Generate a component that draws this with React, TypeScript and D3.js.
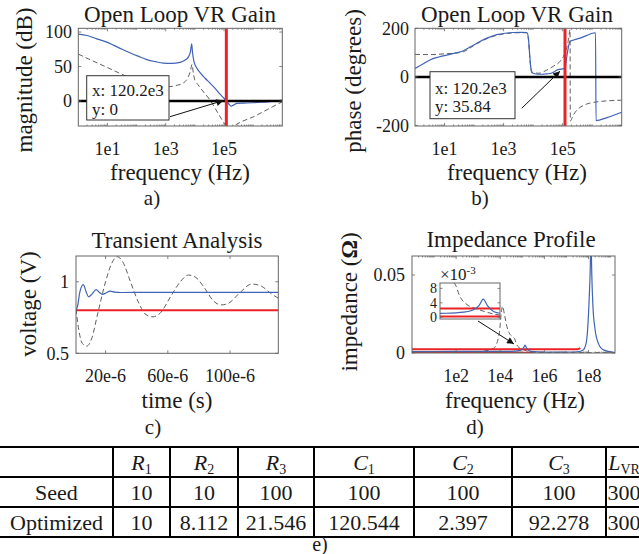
import React from 'react';
import * as d3 from 'd3';

const FONT = "'Liberation Serif','Times New Roman',serif";
const BLUE = '#3f63b5';
const RED = '#ec2227';
const DASH = '#4d4d4d';
const AXIS = '#666666';
const INK = '#1a1a1a';

// ---------- a) Open loop gain, magnitude (Hz, dB) ----------
const magOptFreq = [1, 2, 4.3, 10, 16, 32, 59, 112, 224, 447, 832, 1580, 3090, 4470, 6030, 7080, 7760, 8320, 9330, 11200, 15100, 22400, 33100, 50100, 72400, 1e5, 1.202e5, 1.51e5, 1.78e5, 2.09e5, 2.82e5, 5.01e5, 1e6, 2e6, 3.7e6, 6.3e6, 1e7];
const magOptDb = [97, 95, 90, 85, 81, 75, 70, 65, 60, 57, 55, 54.5, 56, 59, 64, 72, 83, 70, 57, 49, 41, 33, 26, 18, 10, 4, 0, -5, -7.5, -6, -3.5, -3, -2.5, -1.8, -1, 0.5, 1.5];
const magSeedFreq = [1, 3.2, 10, 27, 63, 158, 398, 1000, 1410, 2510, 3980, 5620, 7080, 7940, 8910, 10000, 12600, 20000, 33100, 63100, 1.26e5, 1.58e5, 2e5, 3.98e5, 1e6, 3.16e6, 1e7];
const magSeedDb = [68, 58, 48.5, 40, 33, 27, 23, 21, 21, 23, 26, 33, 44, 53, 40, 30, 24, 13, 1.5, -18, -37, -40, -37, -30, -23, -12, -1];

// ---------- b) Open loop gain, phase (Hz, degrees) ----------
const phaseOptFreq = [1, 1.8, 3.2, 6.3, 11.7, 22.4, 43.7, 79, 158, 316, 589, 1120, 2140, 3980, 6170, 6920, 7590, 8320, 9120, 12600, 17400, 25100, 38000, 50100, 63100, 89100, 1.202e5, 1.38e5, 1.58e5, 1.78e5, 2.51e5, 3.89e5, 6.31e5, 1.1e6, 1.3e6, 1.35e6, 3.16e6, 1e7];
const phaseOptDeg = [35, 52, 70, 82, 90, 98, 108, 125, 146, 163, 174, 180, 183, 184, 183, 160, 97, 40, 17, 12, 11, 12, 14, 20, 28, 32, 35.84, 83, 125, 146, 153, 160, 170, 181, 182, -180, -168, -146];
const phaseSeedFreq = [1, 3.2, 10, 31.6, 43.7, 100, 316, 1000, 3160, 6030, 6920, 7940, 9120, 15800, 28800, 50100, 83200, 1.12e5, 1.38e5, 1.58e5, 1.78e5, 1.82e5, 2.24e5, 3.16e5, 5.01e5, 1e6, 3.16e6, 1e7];
const phaseSeedDeg = [93, 92, 95, 100, 104, 130, 161, 177, 182, 182, 155, 60, 20, 15, 28, 45, 65, 90, 120, 155, 195, -182, -160, -135, -118, -106, -99, -96];

// crossover annotation
const crossoverFreq = 120.2e3;
const gainAtCrossover = 0;
const phaseAtCrossover = 35.84;

// ---------- c) Transient analysis (s, V) ----------
const tranOptTime = [1e-6, 2e-6, 3.5e-6, 5.7e-6, 7.5e-6, 9e-6, 11e-6, 13.9e-6, 16e-6, 18e-6, 20e-6, 23e-6, 26e-6, 30e-6, 40e-6, 131e-6];
const tranOptV = [0.8, 0.83, 0.93, 0.98, 0.93, 0.895, 0.91, 0.945, 0.925, 0.912, 0.92, 0.935, 0.927, 0.925, 0.926, 0.926];
const tranSeedTime = [1e-6, 3e-6, 5e-6, 7.9e-6, 11e-6, 15e-6, 20e-6, 24e-6, 27.5e-6, 31e-6, 36e-6, 41e-6, 46e-6, 50.5e-6, 55e-6, 62e-6, 68e-6, 73.3e-6, 78e-6, 84e-6, 89e-6, 94.2e-6, 99e-6, 106e-6, 113.9e-6, 120e-6, 126e-6, 131e-6];
const tranSeedV = [0.81, 0.65, 0.57, 0.55, 0.6, 0.78, 1.0, 1.13, 1.175, 1.14, 1.0, 0.86, 0.77, 0.755, 0.78, 0.9, 1.0, 1.047, 1.03, 0.95, 0.87, 0.838, 0.85, 0.92, 0.984, 0.97, 0.92, 0.885];
const tranLimitV = 0.8;

// ---------- d) Impedance profile (Hz, Ohm) ----------
const impOptFreq = [1, 100, 1e4, 3.16e4, 6.31e4, 8.91e4, 1.12e5, 1.32e5, 1.55e5, 2e5, 2.51e5, 1e6, 1e7, 3.16e7, 5.75e7, 7.94e7, 9.12e7, 1.07e8, 1.17e8, 1.29e8, 1.41e8, 1.58e8, 1.95e8, 2.82e8, 4.68e8, 1.58e9];
const impOptOhm = [0.0009, 0.001, 0.001, 0.0011, 0.0014, 0.002, 0.0032, 0.005, 0.0032, 0.0015, 0.0011, 0.0006, 0.0005, 0.0008, 0.002, 0.007, 0.0155, 0.035, 0.049, 0.072, 0.049, 0.03, 0.0157, 0.006, 0.002, 0.0003];
const impSeedFreq = [1, 100, 1000, 5000, 8900, 1.12e4, 1.26e4, 1.58e4, 2e4, 2.51e4, 3.55e4, 4.47e4, 5.37e4, 7.08e4, 1e5, 1.58e5, 2.51e5, 1e6, 1.58e9];
const impSeedOhm = [0.0003, 0.0004, 0.0008, 0.003, 0.012, 0.026, 0.03, 0.024, 0.017, 0.013, 0.0105, 0.0092, 0.0058, 0.0035, 0.0024, 0.0013, 0.0006, 0.0003, 0.0002];
const impTargetFreq = [1, 3.3e7, 4.2e7];
const impTargetOhm = [0.0024, 0.0024, 0.0032];
const impTarget2Freq = [1, 3.2e5];
const impTarget2Ohm = [0.0002, 0.0002];

// ---------- e) Table ----------
const paramSymbols = ['R', 'R', 'R', 'C', 'C', 'C', 'L'];
const paramSubs = ['1', '2', '3', '1', '2', '3', 'VR'];
const seedValues = [10, 10, 100, 100, 100, 100, 300];
const optimizedValues = [10, 8.112, 21.546, 120.544, 2.397, 92.278, 300];
const rowNames = ['Seed', 'Optimized'];

type S = any;

function pathOf(xs: number[], ys: number[], sx: S, sy: S, curve: any = d3.curveMonotoneX) {
  const pts = xs.map((x, i) => [x, ys[i]] as [number, number]);
  return d3.line<[number, number]>().x(d => sx(d[0])).y(d => sy(d[1])).curve(curve)(pts) || '';
}

function logMinor(domain: number[]) {
  const [lo, hi] = domain;
  const out: number[] = [];
  for (let e = Math.floor(Math.log10(lo)); e <= Math.ceil(Math.log10(hi)); e++) {
    for (let m = 1; m <= 9; m++) {
      const v = m * Math.pow(10, e);
      if (v > lo * 1.0001 && v < hi * 0.9999) out.push(v);
    }
  }
  return out;
}

function Frame({ sx, sy, xMajor, yMajor, xMinor = [] as number[], major = 3, minor = 1.5 }: any) {
  const [x0, x1] = sx.range();
  const [y1, y0] = sy.range();
  const parts: string[] = [];
  xMajor.forEach((t: number) => { const X = sx(t); parts.push(`M${X},${y1}v${-major}M${X},${y0}v${major}`); });
  xMinor.forEach((t: number) => { const X = sx(t); parts.push(`M${X},${y1}v${-minor}M${X},${y0}v${minor}`); });
  yMajor.forEach((t: number) => { const Y = sy(t); parts.push(`M${x0},${Y}h${major}M${x1},${Y}h${-major}`); });
  return (
    <g>
      <path d={parts.join('')} stroke={AXIS} strokeWidth={0.8} fill="none" />
      <rect x={x0} y={y0} width={x1 - x0} height={y1 - y0} fill="none" stroke={AXIS} strokeWidth={1} />
    </g>
  );
}

function TickText({ sx, sy, xTicks, xFmt, xBase, yTicks, yFmt, yRight, size = 18 }: any) {
  return (
    <g fontFamily={FONT} fontSize={size} fill={INK}>
      {xTicks.map((t: number) => (
        <text key={'x' + t} x={sx(t)} y={xBase} textAnchor="middle">{xFmt(t)}</text>
      ))}
      {yTicks.map((t: number) => (
        <text key={'y' + t} x={yRight} y={sy(t)} dy="0.35em" textAnchor="end">{yFmt(t)}</text>
      ))}
    </g>
  );
}

function ClipRect({ id, sx, sy }: any) {
  const [x0, x1] = sx.range();
  const [y1, y0] = sy.range();
  return (
    <clipPath id={id}>
      <rect x={x0} y={y0} width={x1 - x0} height={y1 - y0} />
    </clipPath>
  );
}

const expFmt = (t: number) => `1e${Math.round(Math.log10(t))}`;

export default function App() {
  // scales
  const xa = d3.scaleLog().domain([1, 1e7]).range([78.3, 282.3]);
  const ya = d3.scaleLinear().domain([-36.2, 105.4]).range([126, 28.3]);
  const xb = d3.scaleLog().domain([1, 1e7]).range([415, 621.7]);
  const yb = d3.scaleLinear().domain([-202.5, 200.4]).range([126, 28.3]);
  const xc = d3.scaleLinear().domain([1e-6, 131e-6]).range([76, 278.3]);
  const yc = d3.scaleLinear().domain([0.5, 1.18]).range([353.3, 256]);
  const xd = d3.scaleLog().domain([1, 1.58e9]).range([412, 615]);
  const yd = d3.scaleLinear().domain([0, 0.0622]).range([353, 256]);
  const xi = d3.scaleLog().domain([2.51e4, 2.51e5]).range([440, 500]);
  const yi = d3.scaleLinear().domain([-0.0005, 0.0095]).range([319, 283]);

  const abMajor = [10, 1e3, 1e5];
  const abMinor = logMinor(xa.domain()).filter(v => !abMajor.includes(v));
  const dMajor = [1e2, 1e4, 1e6, 1e8];
  const dMinor = logMinor(xd.domain()).filter(v => !dMajor.includes(v));

  const [ya0, ya1] = [ya.range()[1], ya.range()[0]];

  // arrows
  const tipA = [xa(crossoverFreq) - 3, ya(gainAtCrossover) - 0.5];
  const tipB = [xb(crossoverFreq) - 5, yb(phaseAtCrossover) + 3];

  // table layout
  const colEdges = [113, 170, 238, 314, 414, 512, 606];
  const colCenters = [141.5, 204, 276, 364, 463, 559, 624];
  const tableTop = 447;
  const rowH = 30;

  return (
    <svg width={639} height={554} viewBox="0 0 639 554" style={{ position: 'absolute', left: 0, top: 0, background: '#fff' }}>
      <defs>
        <marker id="arr" viewBox="0 0 10 10" refX={10} refY={5} markerWidth={9} markerHeight={7} markerUnits="userSpaceOnUse" orient="auto">
          <path d="M0,0 L10,5 L0,10 z" fill="#111" />
        </marker>
        <ClipRect id="clipA" sx={xa} sy={ya} />
        <ClipRect id="clipB" sx={xb} sy={yb} />
        <ClipRect id="clipC" sx={xc} sy={yc} />
        <ClipRect id="clipD" sx={xd} sy={yd} />
        <ClipRect id="clipI" sx={xi} sy={yi} />
      </defs>
      <rect x={0} y={0} width={639} height={554} fill="#fff" />

      {/* ---------------- a) ---------------- */}
      <g clipPath="url(#clipA)">
        <path d={pathOf(magSeedFreq, magSeedDb, xa, ya)} fill="none" stroke={DASH} strokeWidth={0.9} strokeDasharray="5,3" />
        <path d={pathOf(magOptFreq, magOptDb, xa, ya)} fill="none" stroke={BLUE} strokeWidth={1.2} />
        <line x1={xa.range()[0]} x2={xa.range()[1]} y1={ya(0)} y2={ya(0)} stroke="#000" strokeWidth={2.5} />
        <line x1={xa(crossoverFreq)} x2={xa(crossoverFreq)} y1={ya0} y2={ya1} stroke={RED} strokeWidth={3} />
      </g>
      <Frame sx={xa} sy={ya} xMajor={abMajor} xMinor={abMinor} yMajor={[0, 50, 100]} />
      <TickText sx={xa} sy={ya} xTicks={abMajor} xFmt={expFmt} xBase={155} yTicks={[0, 50, 100]} yFmt={(t: number) => String(t)} yRight={72} />
      <rect x={86.7} y={75.7} width={82.3} height={44.3} fill="#fff" stroke="#333" strokeWidth={1} />
      <g fontFamily={FONT} fontSize={17} fill={INK}>
        <text x={92} y={96}>{`x: ${crossoverFreq / 1000}e3`}</text>
        <text x={92} y={115}>{`y: ${gainAtCrossover}`}</text>
      </g>
      <line x1={170} y1={116.7} x2={tipA[0]} y2={tipA[1]} stroke="#111" strokeWidth={1} markerEnd="url(#arr)" />
      <g fontFamily={FONT} fill={INK}>
        <text x={180} y={22} fontSize={23} textAnchor="middle">Open Loop VR Gain</text>
        <text x={180} y={180} fontSize={23} textAnchor="middle">frequency (Hz)</text>
        <text transform="translate(32,80) rotate(-90)" fontSize={23} textAnchor="middle">magnitude (dB)</text>
        <text x={152} y={205} fontSize={21} textAnchor="middle">a)</text>
      </g>

      {/* ---------------- b) ---------------- */}
      <g clipPath="url(#clipB)">
        <path d={pathOf(phaseSeedFreq, phaseSeedDeg, xb, yb)} fill="none" stroke={DASH} strokeWidth={0.9} strokeDasharray="5,3" />
        <path d={pathOf(phaseOptFreq, phaseOptDeg, xb, yb)} fill="none" stroke={BLUE} strokeWidth={1.2} />
        <line x1={xb.range()[0]} x2={xb.range()[1]} y1={yb(0)} y2={yb(0)} stroke="#000" strokeWidth={2.5} />
        <line x1={xb(crossoverFreq)} x2={xb(crossoverFreq)} y1={yb.range()[1]} y2={yb.range()[0]} stroke={RED} strokeWidth={3} />
      </g>
      <Frame sx={xb} sy={yb} xMajor={abMajor} xMinor={abMinor} yMajor={[-200, 0, 200]} />
      <TickText sx={xb} sy={yb} xTicks={abMajor} xFmt={expFmt} xBase={155} yTicks={[-200, 0, 200]} yFmt={(t: number) => (t < 0 ? '-' + Math.abs(t) : String(t))} yRight={409} />
      <rect x={430} y={71.7} width={85} height={47} fill="#fff" stroke="#333" strokeWidth={1} />
      <g fontFamily={FONT} fontSize={17} fill={INK}>
        <text x={435} y={94}>{`x: ${crossoverFreq / 1000}e3`}</text>
        <text x={435} y={112}>{`y: ${phaseAtCrossover}`}</text>
      </g>
      <line x1={521.7} y1={108.3} x2={tipB[0]} y2={tipB[1]} stroke="#111" strokeWidth={1} markerEnd="url(#arr)" />
      <g fontFamily={FONT} fill={INK}>
        <text x={517} y={22} fontSize={23} textAnchor="middle">Open Loop VR Gain</text>
        <text x={517} y={180} fontSize={23} textAnchor="middle">frequency (Hz)</text>
        <text transform="translate(361,81) rotate(-90)" fontSize={23} textAnchor="middle">phase (degrees)</text>
        <text x={480} y={205} fontSize={21} textAnchor="middle">b)</text>
      </g>

      {/* ---------------- c) ---------------- */}
      <g clipPath="url(#clipC)">
        <path d={pathOf(tranSeedTime, tranSeedV, xc, yc)} fill="none" stroke={DASH} strokeWidth={0.9} strokeDasharray="5,3" />
        <line x1={xc.range()[0]} x2={xc.range()[1]} y1={yc(tranLimitV)} y2={yc(tranLimitV)} stroke={RED} strokeWidth={2} />
        <path d={pathOf(tranOptTime, tranOptV, xc, yc)} fill="none" stroke={BLUE} strokeWidth={1.2} />
      </g>
      <Frame sx={xc} sy={yc} xMajor={[20e-6, 60e-6, 100e-6]} yMajor={[0.5, 1]} />
      <TickText sx={xc} sy={yc} xTicks={[20e-6, 60e-6, 100e-6]} xFmt={(t: number) => `${Math.round(t * 1e6)}e-6`} xBase={382} yTicks={[0.5, 1]} yFmt={(t: number) => String(t)} yRight={69} />
      <g fontFamily={FONT} fill={INK}>
        <text x={177} y={248} fontSize={23} textAnchor="middle">Transient Analysis</text>
        <text x={177} y={408} fontSize={23} textAnchor="middle">time (s)</text>
        <text transform="translate(36,304) rotate(-90)" fontSize={23} textAnchor="middle">voltage (V)</text>
        <text x={153} y={434} fontSize={21} textAnchor="middle">c)</text>
      </g>

      {/* ---------------- d) ---------------- */}
      <g clipPath="url(#clipD)">
        <path d={pathOf(impSeedFreq, impSeedOhm, xd, yd)} fill="none" stroke={DASH} strokeWidth={0.9} strokeDasharray="5,3" />
        <path d={pathOf(impTargetFreq, impTargetOhm, xd, yd)} fill="none" stroke={RED} strokeWidth={2} />
        <path d={pathOf(impTarget2Freq, impTarget2Ohm, xd, yd)} fill="none" stroke={RED} strokeWidth={2} />
        <path d={pathOf(impOptFreq, impOptOhm, xd, yd)} fill="none" stroke={BLUE} strokeWidth={1.2} />
      </g>
      <Frame sx={xd} sy={yd} xMajor={dMajor} xMinor={dMinor} yMajor={[0, 0.05]} />
      <TickText sx={xd} sy={yd} xTicks={dMajor} xFmt={expFmt} xBase={382} yTicks={[0, 0.05]} yFmt={(t: number) => String(t)} yRight={405} />
      {/* inset */}
      <rect x={440} y={283} width={60} height={36} fill="#fff" />
      <g clipPath="url(#clipI)">
        <path d={pathOf(impSeedFreq, impSeedOhm, xi, yi)} fill="none" stroke={DASH} strokeWidth={0.9} strokeDasharray="5,3" />
        <path d={pathOf(impTargetFreq, impTargetOhm, xi, yi)} fill="none" stroke={RED} strokeWidth={2} />
        <path d={pathOf(impTarget2Freq, impTarget2Ohm, xi, yi)} fill="none" stroke={RED} strokeWidth={2} />
        <path d={pathOf(impOptFreq, impOptOhm, xi, yi)} fill="none" stroke={BLUE} strokeWidth={1.2} />
      </g>
      <Frame sx={xi} sy={yi} xMajor={[]} yMajor={[0, 0.004, 0.008]} major={2.5} />
      <TickText sx={xi} sy={yi} xTicks={[]} xFmt={String} xBase={0} yTicks={[0, 0.004, 0.008]} yFmt={(t: number) => String(Math.round(t * 1e3))} yRight={437} size={14} />
      <text x={440} y={280} fontFamily={FONT} fontSize={17} fill={INK}>
        ×10<tspan fontSize={11} dy={-6}>-3</tspan>
      </text>
      <line x1={478} y1={321} x2={514} y2={344} stroke="#111" strokeWidth={1} markerEnd="url(#arr)" />
      <g fontFamily={FONT} fill={INK}>
        <text x={511} y={247} fontSize={23} textAnchor="middle">Impedance Profile</text>
        <text x={515} y={408} fontSize={23} textAnchor="middle">frequency (Hz)</text>
        <text transform="translate(357,302) rotate(-90)" fontSize={23} textAnchor="middle">
          impedance (<tspan fontWeight="bold">Ω</tspan>)
        </text>
        <text x={475} y={434} fontSize={21} textAnchor="middle">d)</text>
      </g>

      {/* ---------------- e) table ---------------- */}
      <g stroke="#000" strokeWidth={2}>
        {[0, 1, 2, 3].map(r => (
          <line key={'h' + r} x1={0} x2={639} y1={tableTop + r * rowH} y2={tableTop + r * rowH} />
        ))}
        {colEdges.map(x => (
          <line key={'v' + x} x1={x} x2={x} y1={tableTop} y2={tableTop + 3 * rowH} />
        ))}
      </g>
      <g fontFamily={FONT} fontSize={22} fill={INK} textAnchor="middle">
        {paramSymbols.map((s, i) => (
          <text key={'p' + i} x={colCenters[i]} y={tableTop + 23}>
            <tspan fontStyle="italic">{s}</tspan>
            <tspan fontSize={14} dy={4}>{paramSubs[i]}</tspan>
          </text>
        ))}
        <text x={56.5} y={tableTop + rowH + 23}>{rowNames[0]}</text>
        <text x={56.5} y={tableTop + 2 * rowH + 23}>{rowNames[1]}</text>
        {seedValues.map((v, i) => (
          <text key={'s' + i} x={colCenters[i]} y={tableTop + rowH + 23}>{String(v)}</text>
        ))}
        {optimizedValues.map((v, i) => (
          <text key={'o' + i} x={colCenters[i]} y={tableTop + 2 * rowH + 23}>{String(v)}</text>
        ))}
        <text x={320} y={551} fontSize={20}>e)</text>
      </g>
    </svg>
  );
}
